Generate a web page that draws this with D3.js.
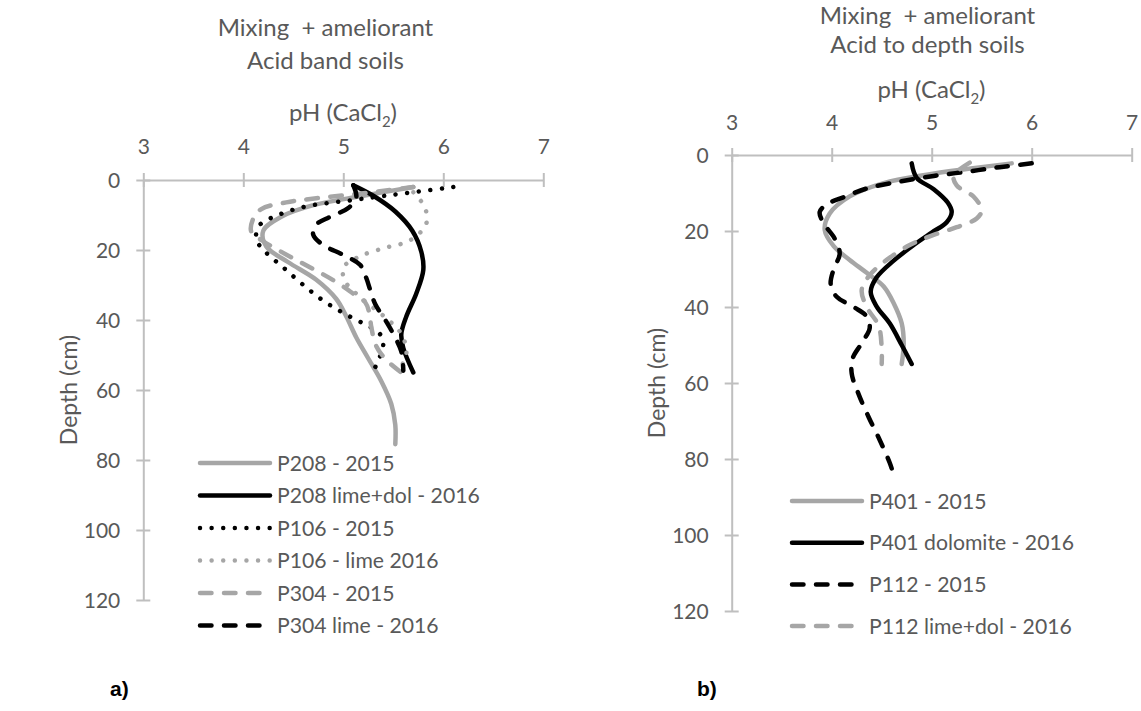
<!DOCTYPE html>
<html><head><meta charset="utf-8">
<script src="https://cdn.jsdelivr.net/npm/d3@7"></script>
<style>
body{margin:0;background:#fff}
text{font-family:Lato,"Open Sans",sans-serif;fill:#595959}
</style>
</head><body>
<svg id="chart" width="1141" height="711"></svg>
<script>
// ---------- data ----------
const phTicks = [3, 4, 5, 6, 7];
const depthTicks = [0, 20, 40, 60, 80, 100, 120];

// Panel a) – Acid band soils  [pH, depth cm]
const p208_2015 = [[5.7,2],[5.2,4.5],[4.7,7.2],[4.38,10.5],[4.2,14.5],[4.23,19],[4.45,23.5],[4.73,28.5],[4.93,34],[5.03,39],[5.13,45],[5.25,51],[5.38,57.5],[5.48,64],[5.52,70],[5.52,75.5]];
const p208_2016 = [[5.1,1.5],[5.3,4.5],[5.52,9],[5.69,14.5],[5.78,20.5],[5.8,25.7],[5.73,32.4],[5.63,39],[5.58,44],[5.6,48],[5.7,55]];
const p106_2015 = [[6.1,2],[5.5,4.2],[5.1,5.7],[4.62,7.6],[4.35,10],[4.16,13],[4.13,17],[4.22,20.5],[4.4,25],[4.6,30],[4.8,34.5],[5.0,38],[5.2,41],[5.35,43.5],[5.4,46],[5.36,51],[5.3,54.5]];
const p106_2016 = [[5.7,3.5],[5.8,7],[5.84,11],[5.8,14],[5.65,17.5],[5.4,19.5],[5.15,22],[5.0,25],[5.02,29],[5.15,33],[5.3,36.5],[5.45,40],[5.57,43.5],[5.63,48],[5.62,51],[5.55,54.5]];
const p304_2015 = [[5.7,2],[5.2,3.8],[4.73,5.2],[4.43,6.4],[4.18,8.3],[4.1,11],[4.08,14.8],[4.2,17.5],[4.5,22.4],[4.75,26.2],[4.95,29.5],[5.1,32.5],[5.22,35],[5.26,38],[5.28,42],[5.33,47.5],[5.43,51.4],[5.57,54.8]];
const p304_2016 = [[5.1,1.5],[5.13,5],[5.05,8],[4.87,10.5],[4.72,13],[4.7,15.7],[4.8,18.6],[5.0,21.4],[5.17,24.3],[5.23,28],[5.27,31.5],[5.32,35.5],[5.42,40],[5.5,44],[5.58,49],[5.6,54.5]];

// Panel b) – Acid to depth soils
const p401_2015 = [[5.8,2.2],[5.35,3.7],[4.95,5.2],[4.52,7.4],[4.18,10.9],[3.98,15.4],[3.93,19.7],[4.02,24],[4.18,27.6],[4.35,31],[4.52,34.6],[4.62,39],[4.7,44.3],[4.72,49.6],[4.7,55]];
const p401_2016 = [[4.8,2.2],[4.85,6],[5.02,9],[5.16,12.5],[5.2,15],[5.15,17.7],[5.0,20.4],[4.82,23.7],[4.62,27.8],[4.45,32.2],[4.39,36],[4.45,39.9],[4.58,44.3],[4.7,50],[4.8,55]];
const p112_2015 = [[6.0,2.2],[5.68,3.2],[5.35,4.4],[5.02,5.5],[4.68,7],[4.35,8.8],[4.12,11.1],[3.95,13],[3.88,15],[3.92,18],[4.03,22],[4.08,26],[4.02,30],[3.99,34],[4.05,37.3],[4.22,40],[4.35,42.5],[4.38,45.5],[4.3,49.5],[4.21,53.5],[4.2,57.5],[4.27,63],[4.37,69],[4.48,75],[4.58,81],[4.63,85]];
const p112_2016 = [[5.38,2],[5.22,5.5],[5.25,8],[5.42,11],[5.5,14.5],[5.45,16.7],[5.25,19],[5.0,21.2],[4.78,23.7],[4.55,27.6],[4.38,31.6],[4.3,35.5],[4.35,40],[4.47,45],[4.5,51],[4.5,55]];

const namesA = ["P208 - 2015","P208 lime+dol - 2016","P106 - 2015","P106 - lime 2016","P304 - 2015","P304 lime - 2016"];
const namesB = ["P401 - 2015","P401 dolomite - 2016","P112 - 2015","P112 lime+dol - 2016"];

// ---------- styles ----------
const GRAY = "#a6a6a6", BLACK = "#000";
const SOLID = null, DOT = "0.01 11.6", DASH = "11.5 12.5";
const stylesA = [[GRAY,SOLID],[BLACK,SOLID],[BLACK,DOT],[GRAY,DOT],[GRAY,DASH],[BLACK,DASH]];
const stylesB = [[GRAY,SOLID],[BLACK,SOLID],[BLACK,DASH],[GRAY,DASH]];

const svg = d3.select("#chart");

function panel(cfg) {
  const x = d3.scaleLinear().domain([3,7]).range([cfg.x0, cfg.x1]);
  const y = d3.scaleLinear().domain([0,120]).range([cfg.y0, cfg.y1]);
  const g = svg.append("g");

  // x axis (top)
  const ax = g.append("g").attr("transform",`translate(0,${cfg.y0})`)
    .call(d3.axisTop(x).tickValues(phTicks).tickSizeOuter(0).tickSizeInner(7).tickFormat(d3.format("d")));
  ax.selectAll(".tick line").attr("y1",7).attr("y2",-7);
  ax.selectAll(".tick text").attr("y",cfg.xLabY - cfg.y0).attr("dy",0);
  // y axis
  const ay = g.append("g").attr("transform",`translate(${cfg.x0},0)`)
    .call(d3.axisLeft(y).tickValues(depthTicks).tickSizeOuter(0).tickSizeInner(7).tickFormat(d3.format("d")));
  ay.selectAll(".tick line").attr("x1",7).attr("x2",-7);
  ay.selectAll(".tick text").attr("x",-23).attr("dy","0.36em");
  [ax, ay].forEach(a => {
    a.select(".domain").attr("stroke","#bfbfbf").attr("stroke-width",2);
    a.selectAll(".tick line").attr("stroke","#bfbfbf").attr("stroke-width",2);
    a.selectAll(".tick text").attr("fill","#595959").style("font-size","21px").style("font-family","Lato");
  });

  // titles
  const t = g.append("text").attr("text-anchor","middle").style("font-size","24px").attr("xml:space","preserve");
  t.append("tspan").attr("x",cfg.titleX).attr("y",cfg.titleY).text("Mixing  + ameliorant");
  t.append("tspan").attr("x",cfg.titleX).attr("y",cfg.titleY + cfg.titleGap).text(cfg.subtitle);
  const xt = g.append("text").attr("x",cfg.xTitleX).attr("y",cfg.xTitleY).attr("text-anchor","middle").style("font-size","24px");
  xt.append("tspan").text("pH (CaCl");
  xt.append("tspan").text("2").style("font-size","15px").attr("dy",6);
  xt.append("tspan").text(")").attr("dy",-6);
  g.append("text").attr("transform",`translate(${cfg.yTitleX},${(cfg.y0+cfg.y1)/2}) rotate(-90)`)
    .attr("text-anchor","middle").style("font-size","23px").text("Depth (cm)");

  // series
  const line = d3.line().x(d => x(d[0])).y(d => y(d[1])).curve(d3.curveCatmullRom.alpha(0.5));
  cfg.series.forEach((s,i) => {
    const [col,dash] = cfg.styles[i];
    g.append("path").datum(s).attr("d",line).attr("fill","none")
      .attr("stroke",col).attr("stroke-width",4.5).attr("stroke-linecap","round").attr("stroke-linejoin","round")
      .attr("stroke-dasharray",dash);
  });

  // legend
  cfg.names.forEach((n,i) => {
    const [col,dash] = cfg.styles[i];
    const ly = cfg.legY + i*cfg.legStep;
    g.append("line").attr("x1",cfg.legX).attr("x2",cfg.legX+70).attr("y1",ly).attr("y2",ly)
      .attr("stroke",col).attr("stroke-width",4.5).attr("stroke-linecap","round").attr("stroke-dasharray",dash);
    g.append("text").attr("x",cfg.legX+77).attr("y",ly).attr("dy","0.36em").style("font-size","21.2px").text(n);
  });

  g.append("text").attr("x",cfg.tagX).attr("y",696).style("font-family","Arial, 'Liberation Sans'")
    .style("font-weight","bold").style("font-size","21px").style("fill","#000").text(cfg.tag);
}

panel({x0:143.3,x1:543.3,y0:180,y1:600,xLabY:154,titleX:325.5,titleY:36,titleGap:33,subtitle:"Acid band soils",
  xTitleX:343,xTitleY:120.5,yTitleX:77,series:[p208_2015,p208_2016,p106_2015,p106_2016,p304_2015,p304_2016],
  styles:stylesA,names:namesA,legX:200,legY:463,legStep:32.5,tag:"a)",tagX:110});
panel({x0:731.7,x1:1131.7,y0:155,y1:611,xLabY:130,titleX:927.5,titleY:24,titleGap:29,subtitle:"Acid to depth soils",
  xTitleX:931.5,xTitleY:98,yTitleX:665,series:[p401_2015,p401_2016,p112_2015,p112_2016],
  styles:stylesB,names:namesB,legX:792,legY:501,legStep:41.7,tag:"b)",tagX:697});
</script>
</body></html>
